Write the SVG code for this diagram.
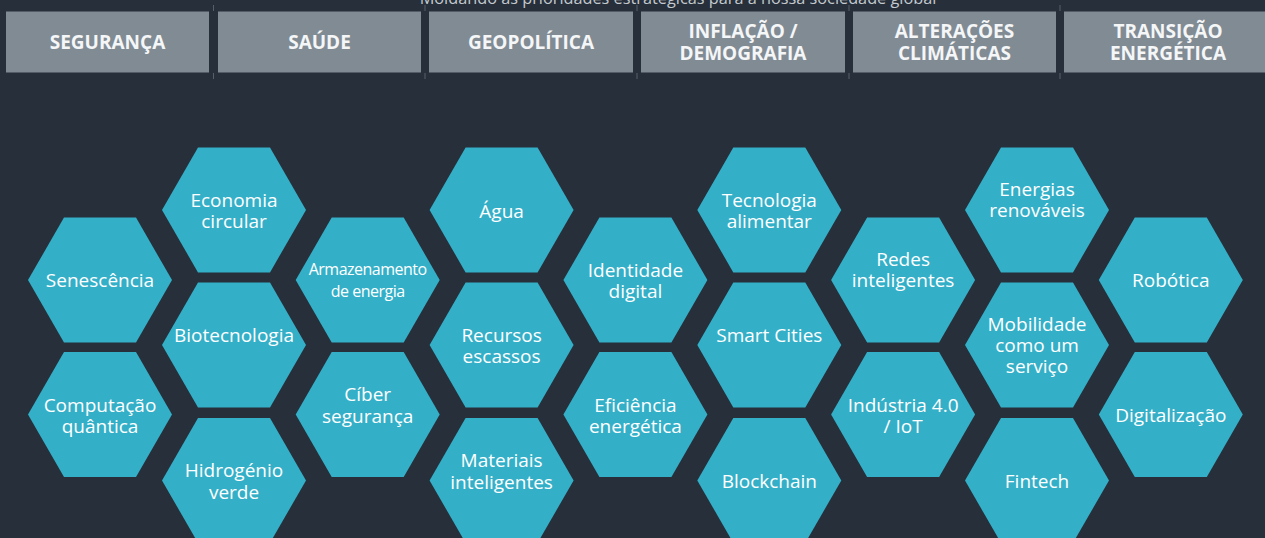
<svg xmlns="http://www.w3.org/2000/svg" width="1265" height="538" viewBox="0 0 1265 538">
  <defs>
    <style>
      .bg { fill: #262f3a; }
      .hdr rect { fill: #818b94; }
      .hdr text { fill: #f4f6f7; font-family: "Open Sans", "Noto Sans", sans-serif; font-weight: 700; font-size: 19px; text-anchor: middle; }
      .tick { stroke: #56606a; stroke-width: 1; }
      .hex polygon { fill: #34afc8; }
      .hex text { fill: #ffffff; font-family: "Open Sans", "Noto Sans", sans-serif; font-size: 19px; text-anchor: middle; }
      .hex text.small { font-size: 16px; letter-spacing: -0.5px; }
      .sub { fill: #c3c9ce; font-family: "Open Sans", "Noto Sans", sans-serif; font-size: 16.3px; text-anchor: middle; }
    </style>
  </defs>

  <rect class="bg" x="0" y="0" width="1265" height="538"/>

  <!-- subtitle, partly above the top edge -->
  <text class="sub" x="678" y="4">Moldando as prioridades estratégicas para a nossa sociedade global</text>

  <!-- separators between the header cells -->
  <g id="ticks" class="tick">
    <line x1="213.5" y1="5" x2="213.5" y2="11"/><line x1="213.5" y1="73" x2="213.5" y2="79"/>
    <line x1="425" y1="5" x2="425" y2="11"/><line x1="425" y1="73" x2="425" y2="79"/>
    <line x1="637" y1="5" x2="637" y2="11"/><line x1="637" y1="73" x2="637" y2="79"/>
    <line x1="849" y1="5" x2="849" y2="11"/><line x1="849" y1="73" x2="849" y2="79"/>
    <line x1="1060" y1="5" x2="1060" y2="11"/><line x1="1060" y1="73" x2="1060" y2="79"/>
  </g>

  <!-- header cells -->
  <g id="hdr-seguranca" class="hdr"><rect x="6" y="11.5" width="203" height="61"/><text x="107.5" y="49">SEGURANÇA</text></g>
  <g id="hdr-saude" class="hdr"><rect x="218" y="11.5" width="203" height="61"/><text x="319.5" y="49">SAÚDE</text></g>
  <g id="hdr-geopolitica" class="hdr"><rect x="429" y="11.5" width="204" height="61"/><text x="531" y="49">GEOPOLÍTICA</text></g>
  <g id="hdr-inflacao" class="hdr"><rect x="641" y="11.5" width="204" height="61"/><text x="743" y="38">INFLAÇÃO /</text><text x="743" y="60">DEMOGRAFIA</text></g>
  <g id="hdr-clima" class="hdr"><rect x="853" y="11.5" width="203" height="61"/><text x="954.5" y="38">ALTERAÇÕES</text><text x="954.5" y="60">CLIMÁTICAS</text></g>
  <g id="hdr-transicao" class="hdr"><rect x="1064" y="11.5" width="203" height="61"/><text x="1168" y="38">TRANSIÇÃO</text><text x="1168" y="60">ENERGÉTICA</text></g>

  <!-- honeycomb, regular hexagons of radius 72; column 0 -->
  <g id="senescencia" class="hex" transform="translate(100,280)"><polygon points="-72,0 -36,-62.4 36,-62.4 72,0 36,62.4 -36,62.4"/><text y="7">Senescência</text></g>
  <g id="computacao-quantica" class="hex" transform="translate(100,414.5)"><polygon points="-72,0 -36,-62.4 36,-62.4 72,0 36,62.4 -36,62.4"/><text y="-3">Computação</text><text y="18">quântica</text></g>

  <!-- column 1 -->
  <g id="economia-circular" class="hex" transform="translate(234,210)"><polygon points="-72,0 -36,-62.4 36,-62.4 72,0 36,62.4 -36,62.4"/><text y="-3">Economia</text><text y="18">circular</text></g>
  <g id="biotecnologia" class="hex" transform="translate(234,345)"><polygon points="-72,0 -36,-62.4 36,-62.4 72,0 36,62.4 -36,62.4"/><text y="-3">Biotecnologia</text></g>
  <g id="hidrogenio-verde" class="hex" transform="translate(234,480.5)"><polygon points="-72,0 -36,-62.4 36,-62.4 72,0 36,62.4 -36,62.4"/><text y="-4">Hidrogénio</text><text y="18">verde</text></g>

  <!-- column 2 -->
  <g id="armazenamento-energia" class="hex" transform="translate(367.7,280)"><polygon points="-72,0 -36,-62.4 36,-62.4 72,0 36,62.4 -36,62.4"/><text class="small" y="-5">Armazenamento</text><text class="small" y="17">de energia</text></g>
  <g id="ciber-seguranca" class="hex" transform="translate(367.7,414.5)"><polygon points="-72,0 -36,-62.4 36,-62.4 72,0 36,62.4 -36,62.4"/><text y="-14">Cíber</text><text y="8">segurança</text></g>

  <!-- column 3 -->
  <g id="agua" class="hex" transform="translate(501.6,210)"><polygon points="-72,0 -36,-62.4 36,-62.4 72,0 36,62.4 -36,62.4"/><text y="8">Água</text></g>
  <g id="recursos-escassos" class="hex" transform="translate(501.6,345)"><polygon points="-72,0 -36,-62.4 36,-62.4 72,0 36,62.4 -36,62.4"/><text y="-3">Recursos</text><text y="18">escassos</text></g>
  <g id="materiais-inteligentes" class="hex" transform="translate(501.6,480.5)"><polygon points="-72,0 -36,-62.4 36,-62.4 72,0 36,62.4 -36,62.4"/><text y="-14">Materiais</text><text y="8">inteligentes</text></g>

  <!-- column 4 -->
  <g id="identidade-digital" class="hex" transform="translate(635.4,280)"><polygon points="-72,0 -36,-62.4 36,-62.4 72,0 36,62.4 -36,62.4"/><text y="-3">Identidade</text><text y="18">digital</text></g>
  <g id="eficiencia-energetica" class="hex" transform="translate(635.4,414.5)"><polygon points="-72,0 -36,-62.4 36,-62.4 72,0 36,62.4 -36,62.4"/><text y="-3">Eficiência</text><text y="18">energética</text></g>

  <!-- column 5 -->
  <g id="tecnologia-alimentar" class="hex" transform="translate(769.3,210)"><polygon points="-72,0 -36,-62.4 36,-62.4 72,0 36,62.4 -36,62.4"/><text y="-3">Tecnologia</text><text y="18">alimentar</text></g>
  <g id="smart-cities" class="hex" transform="translate(769.3,345)"><polygon points="-72,0 -36,-62.4 36,-62.4 72,0 36,62.4 -36,62.4"/><text y="-3">Smart Cities</text></g>
  <g id="blockchain" class="hex" transform="translate(769.3,480.5)"><polygon points="-72,0 -36,-62.4 36,-62.4 72,0 36,62.4 -36,62.4"/><text y="7">Blockchain</text></g>

  <!-- column 6 -->
  <g id="redes-inteligentes" class="hex" transform="translate(903.1,280)"><polygon points="-72,0 -36,-62.4 36,-62.4 72,0 36,62.4 -36,62.4"/><text y="-14">Redes</text><text y="7">inteligentes</text></g>
  <g id="industria-iot" class="hex" transform="translate(903.1,414.5)"><polygon points="-72,0 -36,-62.4 36,-62.4 72,0 36,62.4 -36,62.4"/><text y="-3">Indústria 4.0</text><text y="18">/ IoT</text></g>

  <!-- column 7 -->
  <g id="energias-renovaveis" class="hex" transform="translate(1037,210)"><polygon points="-72,0 -36,-62.4 36,-62.4 72,0 36,62.4 -36,62.4"/><text y="-14">Energias</text><text y="7">renováveis</text></g>
  <g id="mobilidade-servico" class="hex" transform="translate(1037,345)"><polygon points="-72,0 -36,-62.4 36,-62.4 72,0 36,62.4 -36,62.4"/><text y="-14">Mobilidade</text><text y="7">como um</text><text y="28">serviço</text></g>
  <g id="fintech" class="hex" transform="translate(1037,480.5)"><polygon points="-72,0 -36,-62.4 36,-62.4 72,0 36,62.4 -36,62.4"/><text y="7">Fintech</text></g>

  <!-- column 8 -->
  <g id="robotica" class="hex" transform="translate(1170.8,280)"><polygon points="-72,0 -36,-62.4 36,-62.4 72,0 36,62.4 -36,62.4"/><text y="7">Robótica</text></g>
  <g id="digitalizacao" class="hex" transform="translate(1170.8,414.5)"><polygon points="-72,0 -36,-62.4 36,-62.4 72,0 36,62.4 -36,62.4"/><text y="7">Digitalização</text></g>

  <!-- no connectors in this layout -->
  <g id="connectors"/>
</svg>
